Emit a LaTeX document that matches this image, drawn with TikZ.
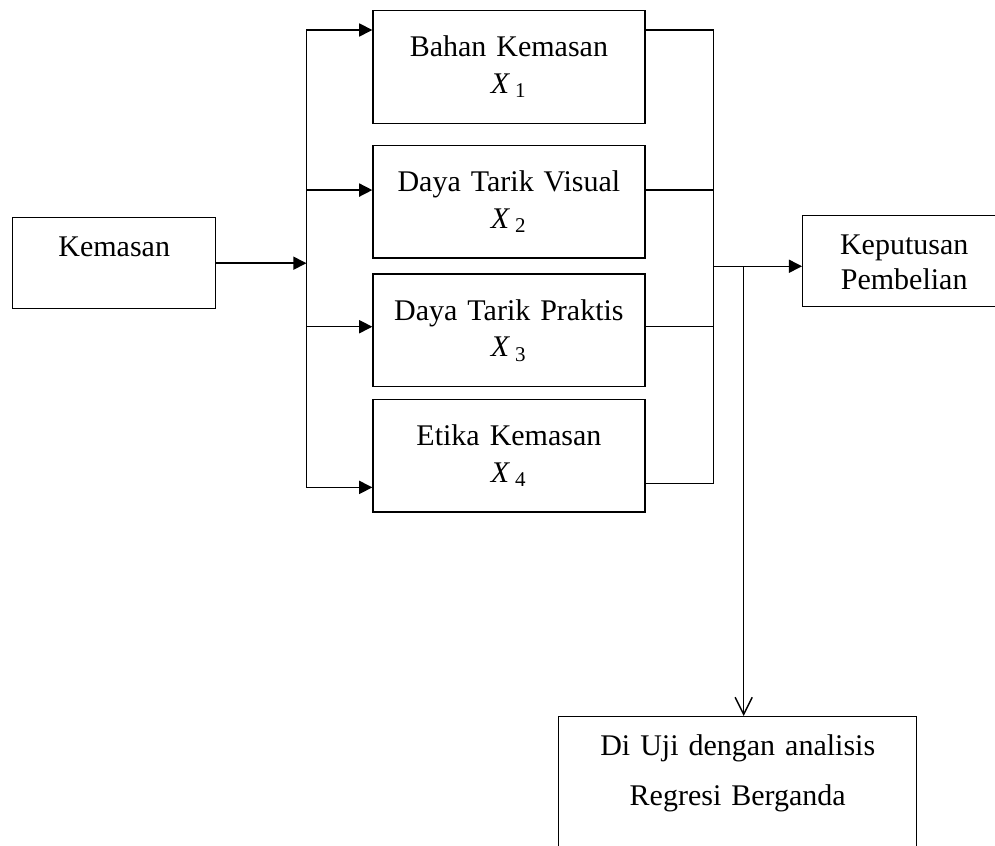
\documentclass[tikz,border=0pt]{standalone}
\usepackage{fontspec}
\setmainfont{Liberation Serif}
\usepackage{tikz}
\usetikzlibrary{arrows.meta, positioning}
\tikzset{
    sidebox/.style={rectangle, draw, line width=0.55pt, text width=76.1pt, align=center, inner xsep=0pt, inner ysep=0pt, text height=14.6pt, text depth=19.5pt, font=\fontsize{11.25}{13.1}\selectfont},
    varbox/.style={rectangle, draw, line width=0.55pt, text width=101.9pt, align=center, inner xsep=0pt, minimum height=42.2pt, font=\fontsize{11.25}{13.75}\selectfont},
    testbox/.style={rectangle, draw, line width=0.55pt, text width=134.25pt, align=center, inner xsep=0pt, inner ysep=0pt, text height=14.6pt, text depth=50pt, font=\fontsize{11.25}{18.75}\selectfont},
    arrow/.style={-{Triangle[length=4.9pt, width=4.9pt]}, line width=0.55pt},
    openarrow/.style={-{Straight Barb[length=6.4pt, width=6.4pt]}, line width=0.55pt},
    line/.style={line width=0.55pt},
}
\newcommand{\xvar}[1]{\textit{X}\,\textsubscript{#1}}

\begin{document}
\begin{tikzpicture}[x=0.375pt, y=-0.375pt]
\useasboundingbox (0,0) rectangle (995,846);
\clip (0,0) rectangle (995,846);

% Input variable
\node[sidebox, anchor=north west] (kemasan) at (12,217) {Kemasan};

% Packaging dimensions
\node[varbox, anchor=north west] (bahan) at (372.3,10) {Bahan Kemasan\\ \xvar{1}};
\node[varbox, below=7.7pt of bahan] (visual) {Daya Tarik Visual\\ \xvar{2}};
\node[varbox, below=5.55pt of visual] (praktis) {Daya Tarik Praktis\\ \xvar{3}};
\node[varbox, below=4.25pt of praktis] (etika) {Etika Kemasan\\ \xvar{4}};

% Dependent variable and test
\node[sidebox, anchor=north west] (keputusan) at (802,215) {Keputusan\\Pembelian};
\node[testbox, anchor=north west] (uji) at (558,716) {Di Uji dengan analisis\\Regresi Berganda};

% Bus points
\coordinate[right=33.75pt of kemasan.east] (lbus);
\coordinate[right=25.4pt of bahan.east] (rbus);
\coordinate (in1) at ([yshift=-7.5pt]bahan.north west);
\coordinate (in2) at ([yshift=4.3pt]visual.west);
\coordinate (in3) at ([yshift=1.35pt]praktis.west);
\coordinate (in4) at ([yshift=-11.9pt]etika.west);
\coordinate (out1) at ([yshift=-7.5pt]bahan.north east);
\coordinate (out2) at ([yshift=4.3pt]visual.east);
\coordinate (out3) at ([yshift=1.35pt]praktis.east);
\coordinate (out4) at ([yshift=-10.4pt]etika.east);
\coordinate (kin) at ([yshift=-1.9pt]keputusan.west);
\coordinate (kstart) at (rbus |- kin);
\coordinate (branch) at ([xshift=11.4pt]kstart);

% Left side
\draw[arrow] (kemasan.east) -- (lbus);
\draw[line] (lbus |- in1) -- (lbus |- in4);
\foreach \i in {1,...,4}
    \draw[arrow] (lbus |- in\i) -- (in\i);

% Right side
\draw[line] (out1) -- (rbus |- out1) -- (rbus |- out4) -- (out4);
\draw[line] (out2) -- (rbus |- out2);
\draw[line] (out3) -- (rbus |- out3);
\draw[arrow] (kstart) -- (kin);
\draw[openarrow] (branch) -- (branch |- uji.north);

\end{tikzpicture}
\end{document}
